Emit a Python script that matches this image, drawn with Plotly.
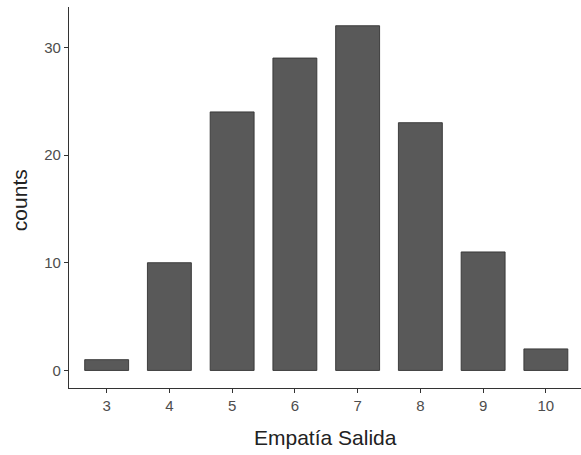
import plotly.graph_objects as go

categories = [3, 4, 5, 6, 7, 8, 9, 10]
counts = [1, 10, 24, 29, 32, 23, 11, 2]
y_ticks = [0, 10, 20, 30]
x_title = "Empatía Salida"
y_title = "counts"

fig = go.Figure(go.Bar(
    x=categories, y=counts, width=0.7,
    marker=dict(color="#595959", line=dict(color="#333333", width=0.9)),
))

axis_common = dict(
    showline=True, linecolor="#333333", linewidth=1.1,
    ticks="outside", ticklen=4, tickwidth=1.1, tickcolor="#333333",
    showgrid=False, zeroline=False, automargin=False,
    tickfont=dict(family="Liberation Sans, Arial", size=15, color="#4D4D4D"),
)

title_font = dict(family="Liberation Sans, Arial", size=21, color="#222222")

fig.update_layout(
    width=581, height=455,
    margin=dict(l=69, r=0, t=7, b=67, autoexpand=False),
    plot_bgcolor="white", paper_bgcolor="white",
    showlegend=False,
    xaxis=dict(axis_common, range=[2.4, 10.56], tickvals=categories,
               ticktext=[str(c) for c in categories]),
    yaxis=dict(axis_common, range=[-1.63, 33.74], tickvals=y_ticks),
    annotations=[
        dict(text=x_title, xref="paper", yref="paper", x=0.5, y=-0.131,
             xanchor="center", yanchor="middle", showarrow=False, font=title_font),
        dict(text=y_title, xref="paper", yref="paper", x=-0.0977, y=0.493,
             xanchor="center", yanchor="middle", textangle=-90, showarrow=False,
             font=title_font),
    ],
)

fig.write_html(
    "out.html",
    config={"displayModeBar": False},
    post_script="document.body.style.margin='0';document.body.style.overflow='hidden';",
)
